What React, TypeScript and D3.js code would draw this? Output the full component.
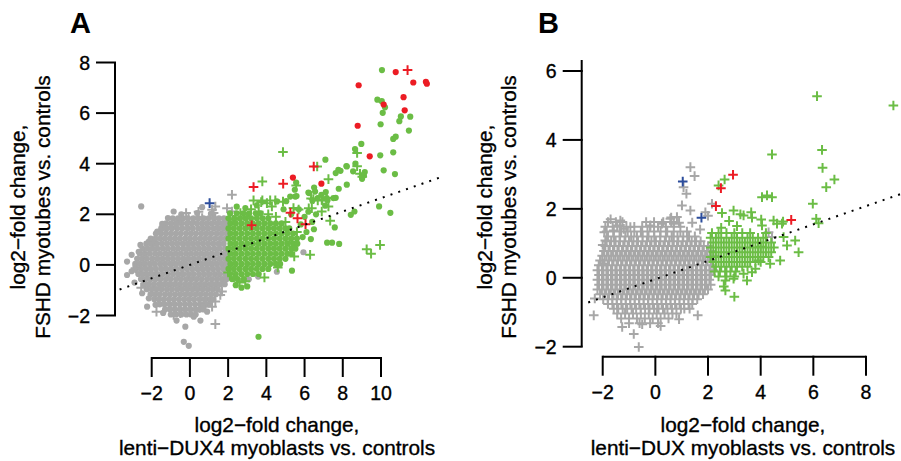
import React from "react";
import * as d3 from "d3";

type Pt = [number, number];
type Row = [number, number[]];

// ---------------- Panel A data (log2FC lenti-DUX4 vs FSHD myotubes) ----------------
const aXTicks = [-2, 0, 2, 4, 6, 8, 10];
const aYTicks = [-2, 0, 2, 4, 6, 8];

// dense grey cloud, read row by row: [y, x values]
const aGrayCoreRows: Row[] = [
  [1.84, [-0.9, -0.62, -0.36, -0.1, 0.18, 0.45, 0.72, 0.98, 1.26, 1.52, 1.78]],
  [1.64, [-1.25, -0.98, -0.7, -0.44, -0.16, 0.1, 0.37, 0.64, 0.9, 1.16, 1.44, 1.7, 1.92]],
  [1.44, [-1.5, -1.22, -0.95, -0.67, -0.4, -0.12, 0.15, 0.44, 0.7, 0.96, 1.24, 1.5, 1.76]],
  [1.24, [-1.78, -1.52, -1.26, -1.0, -0.74, -0.48, -0.2, 0.06, 0.32, 0.6, 0.86, 1.12, 1.4, 1.66, 1.92]],
  [1.04, [-2.05, -1.8, -1.55, -1.3, -1.04, -0.78, -0.52, -0.25, 0.0, 0.27, 0.54, 0.8, 1.06, 1.33, 1.6, 1.86]],
  [0.84, [-2.28, -2.02, -1.75, -1.47, -1.2, -0.93, -0.66, -0.38, -0.12, 0.14, 0.41, 0.68, 0.95, 1.22, 1.5, 1.76]],
  [0.64, [-2.48, -2.22, -1.96, -1.7, -1.42, -1.16, -0.88, -0.62, -0.34, -0.07, 0.2, 0.47, 0.74, 1.0, 1.28, 1.55, 1.84]],
  [0.44, [-2.62, -2.36, -2.1, -1.82, -1.56, -1.28, -1.02, -0.75, -0.48, -0.2, 0.06, 0.33, 0.6, 0.87, 1.14, 1.41, 1.68, 1.92]],
  [0.24, [-2.76, -2.5, -2.25, -1.97, -1.7, -1.43, -1.16, -0.89, -0.62, -0.34, -0.08, 0.2, 0.47, 0.74, 1.0, 1.27, 1.55, 1.82]],
  [0.04, [-2.86, -2.62, -2.38, -2.1, -1.84, -1.56, -1.3, -1.02, -0.76, -0.48, -0.22, 0.06, 0.33, 0.6, 0.86, 1.13, 1.4, 1.67, 1.92]],
  [-0.16, [-2.82, -2.56, -2.3, -2.05, -1.78, -1.5, -1.24, -0.96, -0.7, -0.42, -0.15, 0.12, 0.4, 0.66, 0.93, 1.2, 1.47, 1.75]],
  [-0.36, [-2.7, -2.46, -2.22, -1.96, -1.7, -1.42, -1.15, -0.88, -0.6, -0.34, -0.06, 0.2, 0.48, 0.75, 1.02, 1.3, 1.56, 1.84]],
  [-0.56, [-2.56, -2.32, -2.06, -1.8, -1.54, -1.26, -1.0, -0.72, -0.46, -0.18, 0.08, 0.35, 0.62, 0.9, 1.16, 1.43, 1.7, 1.92]],
  [-0.76, [-2.4, -2.15, -1.88, -1.6, -1.34, -1.07, -0.8, -0.53, -0.26, 0.0, 0.27, 0.54, 0.8, 1.08, 1.34, 1.6, 1.82]],
  [-0.96, [-2.26, -2.0, -1.75, -1.48, -1.2, -0.94, -0.66, -0.4, -0.13, 0.14, 0.4, 0.67, 0.94, 1.2, 1.46]],
  [-1.16, [-2.06, -1.82, -1.58, -1.3, -1.04, -0.77, -0.5, -0.23, 0.03, 0.3, 0.56, 0.83, 1.1, 1.36]],
  [-1.36, [-1.86, -1.62, -1.37, -1.1, -0.84, -0.57, -0.3, -0.04, 0.22, 0.5, 0.76, 1.02, 1.22]],
  [-1.56, [-1.58, -1.33, -1.06, -0.8, -0.53, -0.26, 0.0, 0.27, 0.54, 0.8, 1.0]],
  [-1.76, [-1.3, -1.04, -0.77, -0.5, -0.24, 0.03, 0.3, 0.52, 0.72]],
  [-1.96, [-1.0, -0.72, -0.45, -0.18, 0.06, 0.3]],
];
const aGrayDots: Pt[] = [
  [-2.55, 2.31], [-0.85, 2.11], [0.64, 2.28], [0.38, 2.05], [-2.5, -1.12], [-2.15, -1.32],
  [-2.24, -1.65], [-1.8, -1.58], [-0.24, -2.44], [-0.32, -3.04], [-0.06, -3.2], [0.64, -1.65],
  [0.2, -2.05], [0.9, -1.85], [3.08, -0.57], [3.57, -0.46], [-3.29, 0.13], [-2.85, -0.07],
  [-2.68, 0.52], [-2.59, 0.79], [-2.15, 0.92], [-1.71, 1.32], [-3.29, -0.4], [5.94, 0.5], [4.55, -0.27],
  [-1.45, 1.62], [-1.15, 1.85], [-0.45, 2.0], [1.1, 2.02], [-3.05, 0.4], [-3.05, -0.25], [-2.9, -0.7],
  [-1.4, -1.9], [0.55, -2.2], [-0.7, -2.2],
];
const aGrayPlus: Pt[] = [
  [2.2, 2.77], [1.16, 2.18], [1.24, 2.05], [-0.5, 1.78], [-1.37, 1.52], [-0.07, 1.85], [1.33, 2.31],
  [0.11, 1.71], [0.64, 1.85], [1.33, 1.85], [1.94, 2.24], [2.2, 2.11], [-1.02, -1.71], [-0.85, -1.98],
  [-0.5, -1.91], [1.33, -2.34], [1.16, -1.65], [1.59, -1.19], [-2.85, -0.13], [-2.42, 0.46],
  [1.33, -1.45], [1.68, -1.05], [0.5, -1.7], [0.85, -1.5], [-1.9, 0.9], [-1.2, 1.5], [-0.8, 1.6],
  [-0.2, 2.05], [0.45, 2.1], [-1.75, -1.85], [-2.55, -0.9],
];
const aGreenCoreRows: Row[] = [
  [2.04, [2.1, 2.45, 2.8, 3.1, 3.45, 3.7]],
  [1.84, [2.02, 2.32, 2.62, 2.9, 3.2, 3.5, 3.8, 4.1]],
  [1.64, [2.12, 2.4, 2.7, 3.0, 3.3, 3.6, 3.9, 4.2, 4.5, 4.8]],
  [1.44, [2.02, 2.3, 2.6, 2.9, 3.2, 3.5, 3.8, 4.1, 4.4, 4.7, 5.0, 5.2]],
  [1.24, [2.12, 2.4, 2.7, 3.0, 3.3, 3.6, 3.9, 4.2, 4.5, 4.8, 5.1, 5.4]],
  [1.04, [2.02, 2.3, 2.6, 2.9, 3.2, 3.5, 3.8, 4.1, 4.4, 4.7, 5.0, 5.3, 5.6]],
  [0.84, [2.12, 2.4, 2.7, 3.0, 3.3, 3.6, 3.9, 4.2, 4.5, 4.8, 5.1, 5.4, 5.62]],
  [0.64, [2.02, 2.3, 2.6, 2.9, 3.2, 3.5, 3.8, 4.1, 4.4, 4.7, 5.0, 5.3, 5.52]],
  [0.44, [2.12, 2.4, 2.7, 3.0, 3.3, 3.6, 3.9, 4.2, 4.5, 4.8, 5.1, 5.32]],
  [0.24, [2.02, 2.3, 2.6, 2.9, 3.2, 3.5, 3.8, 4.1, 4.4, 4.7, 5.0]],
  [0.04, [2.12, 2.4, 2.7, 3.0, 3.3, 3.6, 3.9, 4.2, 4.5, 4.72]],
  [-0.16, [2.02, 2.3, 2.6, 2.9, 3.2, 3.5, 3.8, 4.1]],
  [-0.36, [2.1, 2.4, 2.7, 3.0, 3.3, 3.6]],
  [-0.56, [2.2, 2.5, 2.82]],
];
const aGreenDots: Pt[] = [
  [10.05, 7.7], [9.81, 6.53], [10.04, 6.47], [10.21, 6.23], [10.09, 6.01], [11.04, 5.87], [11.53, 5.86],
  [10.96, 5.68], [9.98, 5.56], [11.46, 5.31], [10.64, 4.98], [10.77, 5.07], [8.97, 4.78], [8.64, 4.58],
  [10.64, 4.45], [9.96, 4.33], [7.09, 4.16], [8.66, 4.0], [8.19, 3.91], [7.88, 3.72], [7.63, 3.63],
  [10.14, 3.74], [10.73, 3.59], [9.15, 3.67], [9.1, 3.54], [9.01, 3.41], [8.54, 3.7], [8.21, 3.17],
  [7.79, 3.01], [7.63, 2.65], [7.11, 2.88], [6.5, 3.06], [6.24, 2.84], [5.56, 3.25], [5.49, 2.97],
  [9.9, 2.31], [10.49, 2.06], [8.61, 2.11], [8.42, 1.98], [7.58, 1.48], [7.18, 0.88], [7.44, 0.88],
  [7.81, 0.83], [5.34, -0.23], [6.33, 1.02], [6.49, 1.41], [5.58, 2.72], [7.2, 2.56], [7.08, 2.34],
  [6.69, 2.64], [6.88, 2.77], [6.41, 2.55], [6.2, 2.86], [5.04, 2.52], [4.55, 2.51], [5.25, 2.7],
  [5.51, 2.7], [6.55, 2.9], [7.16, 2.64], [7.51, 2.64], [7.77, 3.76], [8.21, 3.89], [3.59, -2.84],
  [6.0, 1.9], [5.8, 1.6], [6.1, 1.3], [5.9, 1.1], [6.4, 1.7], [5.7, 2.2], [6.2, 2.1], [6.6, 2.0],
  [4.9, 2.2], [5.3, 2.0], [3.0, -0.85], [2.4, -0.8], [2.7, -0.9], [2.45, 2.3], [2.9, 2.25], [3.5, 2.35],
];
const aGreenPlus: Pt[] = [
  [4.87, 4.46], [6.66, 3.89], [3.79, 3.3], [5.56, 3.14], [7.25, 3.39], [8.75, 4.42], [9.02, 3.48],
  [3.33, 2.55], [3.79, 2.55], [4.2, 2.55], [4.47, 2.55], [4.87, 2.5], [6.34, 2.62], [6.69, 2.55],
  [6.93, 2.55], [7.16, 2.64], [6.22, 2.24], [6.9, 2.11], [7.34, 1.75], [9.25, 0.62], [9.48, 0.44],
  [9.95, 0.79], [6.29, 0.4], [5.46, 0.33], [5.69, 2.19], [5.42, 2.25], [2.29, 1.78], [2.64, 2.05],
  [2.99, 1.91], [3.73, 2.48], [4.03, 2.44], [4.29, 2.31], [6.38, 2.24], [7.25, 2.31], [6.46, 2.6],
  [6.9, 2.57], [8.75, 3.9], [8.9, 3.6], [2.3, -0.5], [2.6, -0.7], [2.0, -0.3], [2.9, -0.65],
  [4.6, -0.1], [3.9, -0.5], [5.2, 0.9], [5.6, 1.3], [3.2, 2.2], [3.6, 2.1], [4.1, 2.0], [4.5, 1.9], [5.0, 1.7],
];
const aRedDots: Pt[] = [
  [10.77, 7.62], [11.69, 7.21], [12.35, 7.24], [12.4, 7.16], [8.83, 7.1], [11.18, 6.63], [10.14, 6.34],
  [11.24, 6.11], [8.78, 5.5], [9.41, 4.29], [5.39, 3.45], [6.88, 3.21],
];
const aRedPlus: Pt[] = [
  [11.39, 7.7], [6.48, 3.89], [3.33, 3.08], [4.88, 3.21], [5.26, 2.06], [5.63, 1.84], [6.05, 1.61], [3.23, 1.57],
];
const aBluePlus: Pt[] = [[1.03, 2.44]];
const aFit: Pt = [0.0, 0.264]; // intercept, slope
const aFitRange: Pt = [-3.68, 13.08];

// ---------------- Panel B data (log2FC lenti-DUX vs FSHD myotubes) ----------------
const bXTicks = [-2, 0, 2, 4, 6, 8];
const bYTicks = [-2, 0, 2, 4, 6];

const bGrayCoreRows: Row[] = [
  [1.62, [-1.8, -1.5, -1.25, -0.35, -0.05, 0.3, 0.6]],
  [1.48, [-1.9, -1.62, -1.35, -1.1, -0.8, -0.5, -0.2, 0.1, 0.4, 0.7, 0.95]],
  [1.34, [-1.85, -1.6, -1.3, -1.05, -0.8, -0.55, -0.3, -0.05, 0.2, 0.45, 0.7, 0.95, 1.2]],
  [1.2, [-1.8, -1.58, -1.36, -1.14, -0.92, -0.7, -0.48, -0.26, -0.04, 0.18, 0.4, 0.62, 0.84, 1.06, 1.28, 1.5]],
  [1.06, [-1.85, -1.68, -1.51, -1.34, -1.17, -1.0, -0.83, -0.66, -0.49, -0.32, -0.15, 0.02, 0.19, 0.36, 0.53, 0.7, 0.87, 1.04, 1.21, 1.38, 1.55, 1.72]],
  [0.92, [-1.9, -1.73, -1.56, -1.39, -1.22, -1.05, -0.88, -0.71, -0.54, -0.37, -0.2, -0.03, 0.14, 0.31, 0.48, 0.65, 0.82, 0.99, 1.16, 1.33, 1.5, 1.67, 1.84, 2.0]],
  [0.78, [-1.95, -1.78, -1.61, -1.44, -1.27, -1.1, -0.93, -0.76, -0.59, -0.42, -0.25, -0.08, 0.09, 0.26, 0.43, 0.6, 0.77, 0.94, 1.11, 1.28, 1.45, 1.62, 1.79, 1.96, 2.1]],
  [0.64, [-2.02, -1.85, -1.68, -1.51, -1.34, -1.17, -1.0, -0.83, -0.66, -0.49, -0.32, -0.15, 0.02, 0.19, 0.36, 0.53, 0.7, 0.87, 1.04, 1.21, 1.38, 1.55, 1.72, 1.89, 2.06, 2.2]],
  [0.5, [-2.1, -1.93, -1.76, -1.59, -1.42, -1.25, -1.08, -0.91, -0.74, -0.57, -0.4, -0.23, -0.06, 0.11, 0.28, 0.45, 0.62, 0.79, 0.96, 1.13, 1.3, 1.47, 1.64, 1.81, 1.98, 2.15]],
  [0.36, [-2.15, -1.98, -1.81, -1.64, -1.47, -1.3, -1.13, -0.96, -0.79, -0.62, -0.45, -0.28, -0.11, 0.06, 0.23, 0.4, 0.57, 0.74, 0.91, 1.08, 1.25, 1.42, 1.59, 1.76, 1.93, 2.1]],
  [0.22, [-2.2, -2.03, -1.86, -1.69, -1.52, -1.35, -1.18, -1.01, -0.84, -0.67, -0.5, -0.33, -0.16, 0.01, 0.18, 0.35, 0.52, 0.69, 0.86, 1.03, 1.2, 1.37, 1.54, 1.71, 1.88, 2.05, 2.2]],
  [0.08, [-2.14, -1.97, -1.8, -1.63, -1.46, -1.29, -1.12, -0.95, -0.78, -0.61, -0.44, -0.27, -0.1, 0.07, 0.24, 0.41, 0.58, 0.75, 0.92, 1.09, 1.26, 1.43, 1.6, 1.77, 1.94, 2.11]],
  [-0.06, [-2.2, -2.03, -1.86, -1.69, -1.52, -1.35, -1.18, -1.01, -0.84, -0.67, -0.5, -0.33, -0.16, 0.01, 0.18, 0.35, 0.52, 0.69, 0.86, 1.03, 1.2, 1.37, 1.54, 1.71, 1.88, 2.05]],
  [-0.2, [-2.14, -1.97, -1.8, -1.63, -1.46, -1.29, -1.12, -0.95, -0.78, -0.61, -0.44, -0.27, -0.1, 0.07, 0.24, 0.41, 0.58, 0.75, 0.92, 1.09, 1.26, 1.43, 1.6, 1.77, 1.94, 2.1]],
  [-0.34, [-2.2, -2.03, -1.86, -1.69, -1.52, -1.35, -1.18, -1.01, -0.84, -0.67, -0.5, -0.33, -0.16, 0.01, 0.18, 0.35, 0.52, 0.69, 0.86, 1.03, 1.2, 1.37, 1.54, 1.71, 1.88, 2.0]],
  [-0.48, [-2.1, -1.93, -1.76, -1.59, -1.42, -1.25, -1.08, -0.91, -0.74, -0.57, -0.4, -0.23, -0.06, 0.11, 0.28, 0.45, 0.62, 0.79, 0.96, 1.13, 1.3, 1.47, 1.64, 1.81]],
  [-0.62, [-1.98, -1.81, -1.64, -1.47, -1.3, -1.13, -0.96, -0.79, -0.62, -0.45, -0.28, -0.11, 0.06, 0.23, 0.4, 0.57, 0.74, 0.91, 1.08, 1.25, 1.42, 1.59]],
  [-0.76, [-1.8, -1.63, -1.46, -1.29, -1.12, -0.95, -0.78, -0.61, -0.44, -0.27, -0.1, 0.07, 0.24, 0.41, 0.58, 0.75, 0.92, 1.09, 1.26, 1.4]],
  [-0.9, [-1.58, -1.41, -1.24, -1.07, -0.9, -0.73, -0.56, -0.39, -0.22, -0.05, 0.12, 0.29, 0.46, 0.63, 0.8, 0.97, 1.1]],
  [-1.04, [-1.45, -1.15, -0.85, -0.55, -0.25, 0.05, 0.35, 0.65, 0.8]],
  [-1.18, [-1.3, -1.0, -0.7, -0.4, -0.1, 0.2, 0.5]],
  [-1.32, [-1.0, -0.6, -0.2, 0.1]],
];
const bGrayPlus: Pt[] = [
  [1.33, 3.21], [1.49, 2.95], [1.18, 2.44], [1.01, 2.1], [1.33, 1.95], [1.07, 2.63], [2.15, 2.15],
  [-2.34, -1.09], [-1.26, -1.43], [-0.82, -1.63], [-0.63, -2.01], [1.61, -1.09], [-2.02, 0.36],
  [-1.98, 0.41], [-1.94, 1.32], [-0.19, 1.52], [4.3, 1.32], [4.43, 1.18], [-2.3, -0.6], [-2.0, 0.95],
  [-1.7, 1.7], [0.6, 1.75], [0.9, 1.6], [1.4, 1.6], [1.7, 1.4], [-0.5, -1.35], [0.2, -1.4],
  [0.9, -1.2], [1.3, -0.9], [2.0, 1.8], [1.9, 1.9], [-1.33, 1.66], [-1.45, 1.52], [-1.58, 1.37],
  [-1.2, 1.42], [-1.9, 1.08], [-0.95, 1.47], [0.25, 1.57], [0.57, 1.71], [0.82, 1.76], [0.7, 1.57],
];
const bGreenCoreRows: Row[] = [
  [1.3, [2.15, 2.4, 2.7, 3.0, 3.3, 3.6]],
  [1.16, [2.1, 2.3, 2.5, 2.7, 2.9, 3.1, 3.3, 3.5, 3.7, 3.9, 4.1]],
  [1.02, [2.2, 2.4, 2.6, 2.8, 3.0, 3.2, 3.4, 3.6, 3.8, 4.0, 4.2, 4.4]],
  [0.88, [2.1, 2.3, 2.5, 2.7, 2.9, 3.1, 3.3, 3.5, 3.7, 3.9, 4.1, 4.3, 4.5]],
  [0.74, [2.2, 2.4, 2.6, 2.8, 3.0, 3.2, 3.4, 3.6, 3.8, 4.0, 4.2, 4.4]],
  [0.6, [2.1, 2.3, 2.5, 2.7, 2.9, 3.1, 3.3, 3.5, 3.7, 3.9, 4.1, 4.3]],
  [0.46, [2.2, 2.4, 2.6, 2.8, 3.0, 3.2, 3.4, 3.6, 3.8, 4.0]],
  [0.32, [2.3, 2.5, 2.7, 2.9, 3.1, 3.3, 3.5]],
  [0.18, [2.25, 2.45, 2.65, 2.85, 3.05]],
  [0.04, [2.4, 2.7, 3.0]],
];
const bGreenPlus: Pt[] = [
  [6.14, 5.27], [9.04, 5.0], [4.43, 3.58], [6.33, 3.71], [6.35, 3.19], [6.8, 2.85], [6.49, 2.63],
  [4.05, 2.34], [4.24, 2.39], [4.43, 2.34], [5.98, 2.15], [6.11, 1.71], [6.2, 1.58], [2.63, 2.85],
  [2.4, 2.68], [2.53, 1.88], [2.97, 1.95], [3.23, 1.84], [3.35, 1.81], [3.64, 1.9], [3.67, 1.74],
  [4.02, 1.69], [4.05, 1.52], [4.49, 1.66], [4.62, 1.57], [4.81, 1.57], [4.85, 1.63], [5.31, 1.08],
  [5.0, 0.94], [4.87, 1.18], [5.44, 0.74], [4.74, 0.5], [4.36, 0.41], [3.92, 0.5], [3.8, 0.26],
  [3.67, 0.16], [3.35, 0.12], [2.97, -0.03], [2.66, -0.08], [2.66, -0.37], [3.48, -0.08], [2.6, -0.25],
  [3.0, -0.55], [4.0, 0.9], [4.2, 1.3], [3.1, 1.5], [2.8, 1.65], [2.5, 1.45],
];
const bRedPlus: Pt[] = [[2.95, 2.99], [2.49, 2.6], [2.3, 2.08], [5.16, 1.68]];
const bBluePlus: Pt[] = [[1.04, 2.79], [1.75, 1.74]];
const bFit: Pt = [-0.04, 0.265];
const bFitRange: Pt = [-2.55, 9.3];

const xTitle1 = "log2\u2212fold change,";
const aXTitle2 = "lenti\u2212DUX4 myoblasts vs. controls";
const bXTitle2 = "lenti\u2212DUX myoblasts vs. controls";
const yTitle1 = "log2\u2212fold change,";
const yTitle2 = "FSHD myotubes vs. controls";

// ---------------- styling ----------------
const GRAY = "#a7a7a7";
const GREEN = "#6bbd45";
const RED = "#ec1c24";
const BLUE = "#2c4d9c";
const FONT = "'Liberation Sans', Arial, Helvetica, sans-serif";
const TICK_FS = 19.5;
const TITLE_FS = 20.8;
const TEXT_STROKE = 0.35;

const expand = (rows: Row[]): Pt[] => rows.flatMap(([y, xs]) => xs.map((x) => [x, y] as Pt));
const fmt = (v: number) => (v < 0 ? "\u2212" + Math.abs(v) : String(v));

type Sc = d3.ScaleLinear<number, number>;

function Dots({ pts, x, y, color }: { pts: Pt[]; x: Sc; y: Sc; color: string }) {
  return (
    <g fill={color}>
      {pts.map(([a, b], i) => (
        <circle key={i} cx={x(a)} cy={y(b)} r={3.1} />
      ))}
    </g>
  );
}

function Pluses({ pts, x, y, color }: { pts: Pt[]; x: Sc; y: Sc; color: string }) {
  const d = pts
    .map(([a, b]) => {
      const cx = x(a);
      const cy = y(b);
      return `M${cx - 4.8},${cy}H${cx + 4.8}M${cx},${cy - 4.8}V${cy + 4.8}`;
    })
    .join("");
  return <path d={d} stroke={color} strokeWidth={2} fill="none" />;
}

interface PanelCfg {
  letter: string;
  letterX: number;
  x: Sc;
  y: Sc;
  xTicks: number[];
  yTicks: number[];
  xAxisY: number;
  yAxisX: number;
  yAxisTop: number;
  titleCX: number;
  titleCY: number;
  xTitle2: string;
  fit: Pt;
  fitRange: Pt;
  children: React.ReactNode;
}

function Panel(p: PanelCfg) {
  const { x, y } = p;
  const tick = 19;
  const fitLine = d3.line<number>().x((v) => x(v)).y((v) => y(p.fit[0] + p.fit[1] * v));
  return (
    <g>
      <text x={p.letterX} y={33} fontSize={29} fontWeight="bold" fontFamily={FONT}>
        {p.letter}
      </text>
      {p.children}
      <path d={fitLine(p.fitRange) || ""} stroke="#000" strokeWidth={2} strokeDasharray="2 6.2" fill="none" />
      <g stroke="#000" strokeWidth={2}>
        <line x1={x(p.xTicks[0])} x2={x(p.xTicks[p.xTicks.length - 1])} y1={p.xAxisY} y2={p.xAxisY} />
        {p.xTicks.map((t) => (
          <line key={t} x1={x(t)} x2={x(t)} y1={p.xAxisY - 1} y2={p.xAxisY + tick} />
        ))}
        <line x1={p.yAxisX} x2={p.yAxisX} y1={y(p.yTicks[0])} y2={p.yAxisTop} />
        {p.yTicks.map((t) => (
          <line key={t} x1={p.yAxisX + 1} x2={p.yAxisX - tick} y1={y(t)} y2={y(t)} />
        ))}
      </g>
      <g fontFamily={FONT} fontSize={TICK_FS} fill="#000" stroke="#000" strokeWidth={TEXT_STROKE}>
        {p.xTicks.map((t) => (
          <text key={t} x={x(t)} y={p.xAxisY + 42} textAnchor="middle">
            {fmt(t)}
          </text>
        ))}
        {p.yTicks.map((t) => (
          <text key={t} x={p.yAxisX - 25} y={y(t) + 7} textAnchor="end">
            {fmt(t)}
          </text>
        ))}
      </g>
      <g fontFamily={FONT} fontSize={TITLE_FS} fill="#000" stroke="#000" strokeWidth={TEXT_STROKE} textAnchor="middle">
        <text x={p.titleCX} y={432}>
          {xTitle1}
        </text>
        <text x={p.titleCX} y={455}>
          {p.xTitle2}
        </text>
        <text transform={`translate(${p.yAxisX - 90},${p.titleCY}) rotate(-90)`}>{yTitle1}</text>
        <text transform={`translate(${p.yAxisX - 65.5},${p.titleCY}) rotate(-90)`}>{yTitle2}</text>
      </g>
    </g>
  );
}

export default function App() {
  const xA = d3.scaleLinear().domain([-2, 10]).range([151.7, 381]);
  const yA = d3.scaleLinear().domain([-2, 8]).range([315.5, 62.5]);
  const xB = d3.scaleLinear().domain([-2, 8]).range([602.7, 866]);
  const yB = d3.scaleLinear().domain([-2, 6]).range([346.7, 71]);

  return (
    <svg
      width={901}
      height={461}
      viewBox="0 0 901 461"
      style={{ position: "absolute", left: 0, top: 0, background: "#fff" }}
    >
      <rect width={901} height={461} fill="#fff" />
      <Panel
        letter="A"
        letterX={70}
        x={xA}
        y={yA}
        xTicks={aXTicks}
        yTicks={aYTicks}
        xAxisY={358}
        yAxisX={115}
        yAxisTop={yA(8)}
        titleCX={277}
        titleCY={207}
        xTitle2={aXTitle2}
        fit={aFit}
        fitRange={aFitRange}
      >
        <Dots pts={expand(aGrayCoreRows)} x={xA} y={yA} color={GRAY} />
        <Dots pts={aGrayDots} x={xA} y={yA} color={GRAY} />
        <Pluses pts={aGrayPlus} x={xA} y={yA} color={GRAY} />
        <Dots pts={expand(aGreenCoreRows)} x={xA} y={yA} color={GREEN} />
        <Dots pts={aGreenDots} x={xA} y={yA} color={GREEN} />
        <Pluses pts={aGreenPlus} x={xA} y={yA} color={GREEN} />
        <Dots pts={aRedDots} x={xA} y={yA} color={RED} />
        <Pluses pts={aRedPlus} x={xA} y={yA} color={RED} />
        <Pluses pts={aBluePlus} x={xA} y={yA} color={BLUE} />
      </Panel>
      <Panel
        letter="B"
        letterX={538}
        x={xB}
        y={yB}
        xTicks={bXTicks}
        yTicks={bYTicks}
        xAxisY={356.7}
        yAxisX={581.7}
        yAxisTop={60}
        titleCX={743}
        titleCY={207}
        xTitle2={bXTitle2}
        fit={bFit}
        fitRange={bFitRange}
      >
        <Pluses pts={expand(bGrayCoreRows)} x={xB} y={yB} color={GRAY} />
        <Pluses pts={bGrayPlus} x={xB} y={yB} color={GRAY} />
        <Pluses pts={expand(bGreenCoreRows)} x={xB} y={yB} color={GREEN} />
        <Pluses pts={bGreenPlus} x={xB} y={yB} color={GREEN} />
        <Pluses pts={bRedPlus} x={xB} y={yB} color={RED} />
        <Pluses pts={bBluePlus} x={xB} y={yB} color={BLUE} />
      </Panel>
    </svg>
  );
}
